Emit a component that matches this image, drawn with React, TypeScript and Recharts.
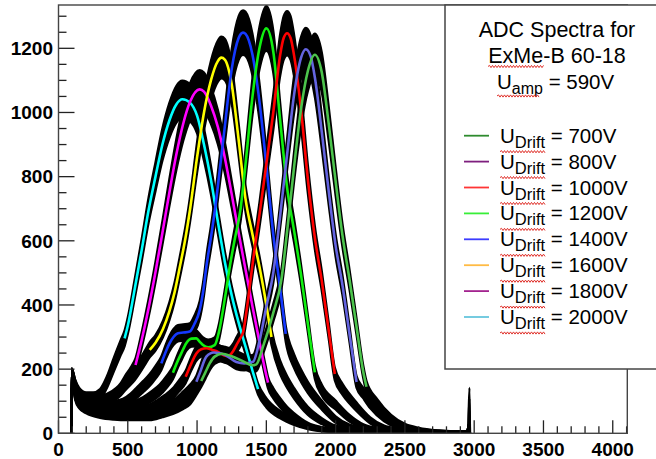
import React from 'react';
import { ComposedChart, Area, Line, XAxis, YAxis } from 'recharts';

// ---- axis ticks ----
const xTicks: number[] = Array.from({ length: 42 }, (_, i) => i * 100);
const yTicks: number[] = Array.from({ length: 27 }, (_, i) => i * 50);
const xMajorStep = 500;
const yMajorStep = 200;

// ---- histogram spectra (ADC channel, counts) ----
const s2000: [number, number][] = [[92,0],[96,182],[120,150],[150,125],[200,112],[250,112],[300,122],[350,160],[400,215],[450,268],[477,296],[500,335],[550,450],[600,570],[650,695],[700,800],[750,900],[800,975],[850,1025],[894,1041],[950,1030],[1000,990],[1050,900],[1100,790],[1150,660],[1200,535],[1250,430],[1300,345],[1350,270],[1400,195],[1440,138],[1500,95],[1600,58],[1700,35],[1800,20],[1900,12],[2000,9],[2200,6],[2500,4],[2900,3],[2955,3],[2966,125],[2970,0]];
const s1800: [number, number][] = [[92,0],[96,182],[120,148],[150,118],[200,102],[300,103],[350,108],[417,125],[450,140],[489,166],[520,185],[556,213],[600,290],[650,390],[700,503],[750,625],[800,750],[850,868],[900,965],[950,1034],[1019,1072],[1050,1065],[1100,1022],[1150,955],[1200,860],[1250,745],[1300,625],[1350,510],[1400,395],[1450,285],[1500,180],[1512,158],[1550,125],[1600,95],[1650,70],[1700,52],[1800,25],[1900,13],[2000,9],[2200,6],[2500,4],[2900,3],[2950,3],[2962,20],[2970,0]];
const s1600: [number, number][] = [[92,0],[96,182],[120,145],[150,112],[200,97],[300,95],[392,114],[450,135],[489,156],[550,185],[585,208],[620,233],[658,260],[700,282],[754,325],[800,380],[838,440],[874,515],[922,623],[950,700],[1000,860],[1050,1000],[1100,1100],[1150,1160],[1175,1171],[1200,1165],[1250,1088],[1300,915],[1350,730],[1400,620],[1450,520],[1500,400],[1537,300],[1600,205],[1650,160],[1700,125],[1800,70],[1900,38],[2000,17],[2100,10],[2300,6],[2600,4],[2900,3],[2950,3],[2962,20],[2970,0]];
const s1400: [number, number][] = [[92,0],[96,182],[120,140],[150,105],[200,90],[300,82],[400,86],[465,93],[520,108],[561,125],[610,145],[658,166],[700,190],[742,218],[775,255],[802,281],[830,300],[862,312],[900,314],[947,317],[980,340],[1019,384],[1050,460],[1067,519],[1100,610],[1130,700],[1150,770],[1200,955],[1250,1135],[1300,1232],[1332,1249],[1350,1245],[1400,1180],[1450,1035],[1500,835],[1550,620],[1600,450],[1640,310],[1700,225],[1750,180],[1800,143],[1900,88],[2000,43],[2100,20],[2200,11],[2400,6],[2700,4],[2900,3],[2950,3],[2962,20],[2970,0]];
const s1200: [number, number][] = [[92,0],[96,182],[120,135],[150,100],[200,85],[300,75],[400,74],[489,78],[550,87],[609,98],[670,115],[730,135],[780,160],[826,189],[860,225],[886,249],[922,281],[960,295],[995,296],[1020,285],[1043,275],[1080,268],[1127,275],[1160,320],[1187,384],[1210,445],[1236,519],[1270,600],[1314,700],[1350,840],[1400,1050],[1450,1200],[1500,1262],[1550,1190],[1600,975],[1650,765],[1700,632],[1750,495],[1800,340],[1850,190],[1900,135],[2000,88],[2100,47],[2200,21],[2300,11],[2500,6],[2700,4],[2900,3],[2950,3],[2962,20],[2970,0]];
const s1000: [number, number][] = [[92,0],[96,182],[120,130],[150,98],[200,82],[300,70],[400,63],[500,60],[561,62],[650,75],[706,88],[770,105],[826,125],[870,148],[918,176],[959,218],[995,249],[1030,262],[1067,265],[1110,260],[1151,254],[1190,244],[1211,241],[1236,244],[1260,256],[1284,275],[1310,295],[1332,315],[1360,390],[1392,499],[1420,590],[1450,680],[1500,840],[1550,1000],[1600,1180],[1625,1232],[1650,1247],[1675,1232],[1700,1178],[1750,1010],[1800,790],[1850,610],[1900,475],[1950,320],[1994,185],[2050,137],[2100,108],[2150,83],[2250,40],[2350,17],[2450,9],[2600,5],[2900,3],[2950,3],[2962,20],[2970,0]];
const s800: [number, number][] = [[92,0],[96,182],[120,125],[150,95],[200,78],[300,63],[400,57],[500,56],[609,57],[700,65],[778,78],[850,96],[898,114],[950,135],[995,161],[1019,187],[1067,239],[1120,252],[1200,245],[1284,222],[1340,218],[1404,223],[1452,291],[1500,395],[1550,500],[1600,680],[1650,870],[1700,1055],[1750,1170],[1785,1197],[1820,1175],[1850,1110],[1900,940],[1950,755],[2000,585],[2050,460],[2100,310],[2151,160],[2200,125],[2250,92],[2350,48],[2450,23],[2550,11],[2700,5],[2900,3],[2950,3],[2962,20],[2970,0]];
const s700: [number, number][] = [[92,0],[96,182],[120,120],[150,92],[200,75],[300,60],[400,54],[500,52],[600,52],[658,52],[750,62],[826,73],[900,90],[947,104],[1000,140],[1030,163],[1060,190],[1091,218],[1127,239],[1180,248],[1250,240],[1330,225],[1400,212],[1428,215],[1476,270],[1549,374],[1609,480],[1650,630],[1700,830],[1750,1010],[1800,1130],[1850,1180],[1900,1125],[1950,965],[2000,785],[2050,615],[2100,480],[2150,335],[2200,190],[2223,145],[2300,92],[2400,47],[2500,22],[2600,11],[2750,5],[2900,3],[2950,3],[2962,20],[2970,0]];

// fit ranges (ADC) of each coloured fit curve
const fitRanges: [number, number][] = [[477,1440],[556,1512],[658,1537],[742,1640],[826,1850],[918,1994],[995,2151],[1030,2223]];
const fitColors = ['#00ffff','#ff00ff','#ffff00','#1438ff','#10f010','#ff0000','#6464e0','#4cc44c'];
const spectraList = [s2000, s1800, s1600, s1400, s1200, s1000, s800, s700];

// statistical fluctuation band half-width (counts) vs count level
const noiseLevels = [0, 10, 50, 100, 200, 400, 700, 1000, 1300];
const noiseHalf = [2, 6, 11, 15, 21, 29, 40, 56, 72];

// legend
const legendTitle = ['ADC Spectra for', 'ExMe-B 60-18'];
const legendVolts = ['700V','800V','1000V','1200V','1400V','1600V','1800V','2000V'];
const legendColors = ['#2e8b2e','#7e1f7e','#ff3535','#38ee38','#3c3cff','#ffbb44','#a3238f','#66c6dd'];

const FONT = '"Liberation Sans", Arial, Helvetica, sans-serif';

function halfWidth(c: number): number {
  for (let i = 1; i < noiseLevels.length; i++) {
    if (c <= noiseLevels[i]) {
      const t = (c - noiseLevels[i - 1]) / (noiseLevels[i] - noiseLevels[i - 1]);
      return noiseHalf[i - 1] + t * (noiseHalf[i] - noiseHalf[i - 1]);
    }
  }
  return noiseHalf[noiseHalf.length - 1];
}

const XTick = (props: any) => {
  const { x, y, payload } = props;
  const major = payload.value % xMajorStep === 0;
  return (
    <g>
      <line x1={x} x2={x} y1={y} y2={y - (major ? 13 : 7)} stroke="#222" strokeWidth={1.3} />
      {major && (
        <text x={x} y={y + 22.3} textAnchor="middle" fontFamily={FONT} fontWeight="bold" fontSize={19} fill="#000">
          {payload.value}
        </text>
      )}
    </g>
  );
};

const YTick = (props: any) => {
  const { x, y, payload } = props;
  const major = payload.value % yMajorStep === 0;
  return (
    <g>
      <line x1={x} x2={x + (major ? 16 : 8)} y1={y} y2={y} stroke="#222" strokeWidth={1.3} />
      {major && (
        <text x={x - 5.5} y={y + 6.8} textAnchor="end" fontFamily={FONT} fontWeight="bold" fontSize={19} fill="#000">
          {payload.value}
        </text>
      )}
    </g>
  );
};

function squiggle(x0: number, x1: number, y: number): string {
  let d = `M${x0},${y}`;
  let up = true;
  for (let x = x0 + 1.5; x <= x1; x += 1.5) {
    d += ` L${x.toFixed(1)},${(y + (up ? -1.1 : 1.1)).toFixed(1)}`;
    up = !up;
  }
  return d;
}

export default function App() {
  const bands = spectraList.map((pts) =>
    pts.map(([x, c]) => {
      const h = halfWidth(c);
      return { x, band: [Math.max(0, c - h), c + h] };
    })
  );
  const fits = spectraList.map((pts, i) =>
    pts.filter(([x]) => x >= fitRanges[i][0] && x <= fitRanges[i][1]).map(([x, c]) => ({ x, c }))
  );

  const rowBase = [142.7, 168.6, 194.5, 220.4, 246.3, 272.2, 298.1, 324];

  return (
    <div style={{ position: 'absolute', left: 0, top: 0, width: 656, height: 459, overflow: 'hidden', background: '#fff' }}>
      <ComposedChart width={656} height={459} margin={{ top: 5, right: 28.7, bottom: 0, left: 0 }}>
        <XAxis
          type="number"
          dataKey="x"
          domain={[0, 4105]}
          ticks={xTicks}
          interval={0}
          tickSize={0}
          tickMargin={0}
          axisLine={false}
          tickLine={false}
          height={25.7}
          allowDataOverflow
          tick={XTick}
        />
        <YAxis
          type="number"
          domain={[0, 1335]}
          ticks={yTicks}
          interval={0}
          tickSize={0}
          tickMargin={0}
          axisLine={false}
          tickLine={false}
          width={58.5}
          allowDataOverflow
          tick={YTick}
        />
        {bands.map((d, i) => (
          <Area
            key={'b' + i}
            data={d}
            dataKey="band"
            type="monotone"
            stroke="#000"
            strokeWidth={2.2}
            fill="#000"
            fillOpacity={1}
            isAnimationActive={false}
            dot={false}
            activeDot={false}
          />
        ))}
        {fits.map((d, i) => (
          <Line
            key={'f' + i}
            data={d}
            dataKey="c"
            type="monotone"
            stroke={fitColors[i]}
            strokeWidth={2.6}
            dot={false}
            activeDot={false}
            isAnimationActive={false}
          />
        ))}
      </ComposedChart>
      <svg width={656} height={459} style={{ position: 'absolute', left: 0, top: 0, pointerEvents: 'none' }}>
        <rect x={58.5} y={5} width={568.8} height={428.3} fill="none" stroke="#444" strokeWidth={1.4} />
        <rect x={445} y={5} width={230} height={364} fill="#fff" stroke="#444" strokeWidth={1.5} />
        <g fontFamily={FONT} fill="#000">
          <text x={557} y={37.3} textAnchor="middle" fontSize={21.5}>{legendTitle[0]}</text>
          <text x={557} y={62.7} textAnchor="middle" fontSize={21.5}>{legendTitle[1]}</text>
          <text x={497} y={89.3} fontSize={20.5}>
            U<tspan fontSize={16} dy={5}>amp</tspan>
            <tspan fontSize={20.5} dy={-5}>{' = 590V'}</tspan>
          </text>
          <path d={squiggle(488, 544, 66.5)} stroke="#e0302a" strokeWidth={1} fill="none" />
          <path d={squiggle(497, 540, 96)} stroke="#e0302a" strokeWidth={1} fill="none" />
          {legendVolts.map((v, i) => (
            <g key={v}>
              <line x1={464} x2={489} y1={rowBase[i] - 7} y2={rowBase[i] - 7} stroke={legendColors[i]} strokeWidth={1.8} />
              <text x={500} y={rowBase[i]} fontSize={20.5}>
                U<tspan fontSize={16.5} dy={5}>Drift</tspan>
                <tspan fontSize={20.5} dy={-5}>{' = ' + v}</tspan>
              </text>
              <path d={squiggle(500, 546, rowBase[i] + 9)} stroke="#e0302a" strokeWidth={1} fill="none" />
            </g>
          ))}
        </g>
      </svg>
    </div>
  );
}
